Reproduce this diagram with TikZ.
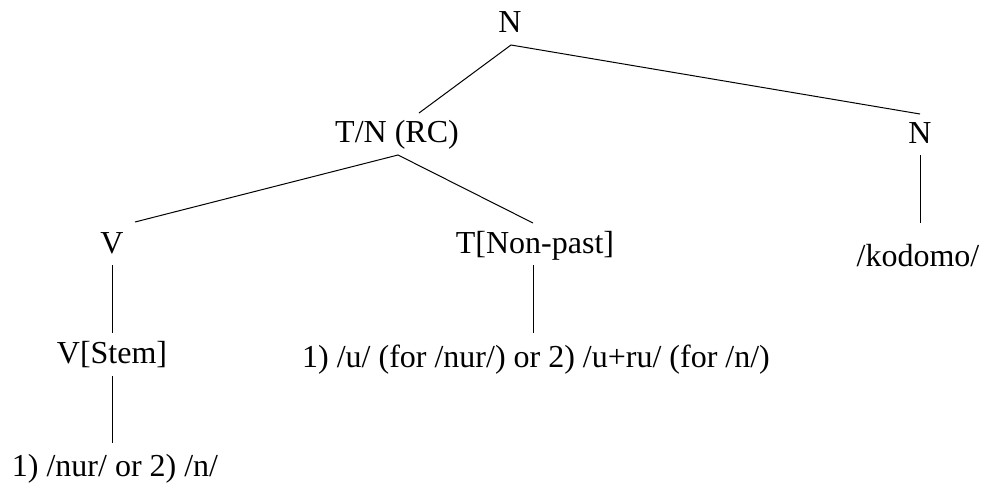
\documentclass[tikz,border=0pt]{standalone}
\usepackage{fontspec}
\setmainfont{Liberation Serif}
\usetikzlibrary{calc}
\begin{document}
\begin{tikzpicture}[x=0.5pt,y=-0.5pt,
  lbl/.style={anchor=base,inner sep=0pt,font=\fontsize{16pt}{19pt}\selectfont},
  branch/.style={line width=0.5pt,black}]
\useasboundingbox (0,0) rectangle (986,489);
% labels of the tree
\node[lbl] (root) at (510,32) {N};
\node[lbl] (rc)   at (397,142) {T/N (RC)};
\node[lbl] (nr)   at (920,143) {N};
\node[lbl] (v)    at (112,253) {V};
\node[lbl] (tnp)  at (535,253) {T[Non-past]};
\node[lbl] (kod)  at (918,266) {/kodomo/};
\node[lbl] (vs)   at (112,363) {V[Stem]};
\node[lbl] (suf)  at (536,367) {1) /u/ (for /nur/) or 2) /u+ru/ (for /n/)};
\node[lbl] (stem) at (115,476) {1) /nur/ or 2) /n/};
% branches
\draw[branch] ($(rc.base)+(22,-29)$) -- ($(root.base)+(1,13)$) -- ($(nr.base)+(0,-29)$);
\draw[branch] ($(v.base)+(23,-31)$) -- ($(rc.base)+(1,13)$) -- ($(tnp.base)+(-2,-30)$);
\draw[branch] ($(v.base)+(0,12)$) -- ($(vs.base)+(0,-30)$);
\draw[branch] ($(vs.base)+(0,13)$) -- ($(stem.base)+(-3,-33)$);
\draw[branch] ($(tnp.base)+(-2,12)$) -- ($(suf.base)+(-3,-34)$);
\draw[branch] ($(nr.base)+(0,12)$) -- ($(kod.base)+(2,-43)$);
\end{tikzpicture}
\end{document}
